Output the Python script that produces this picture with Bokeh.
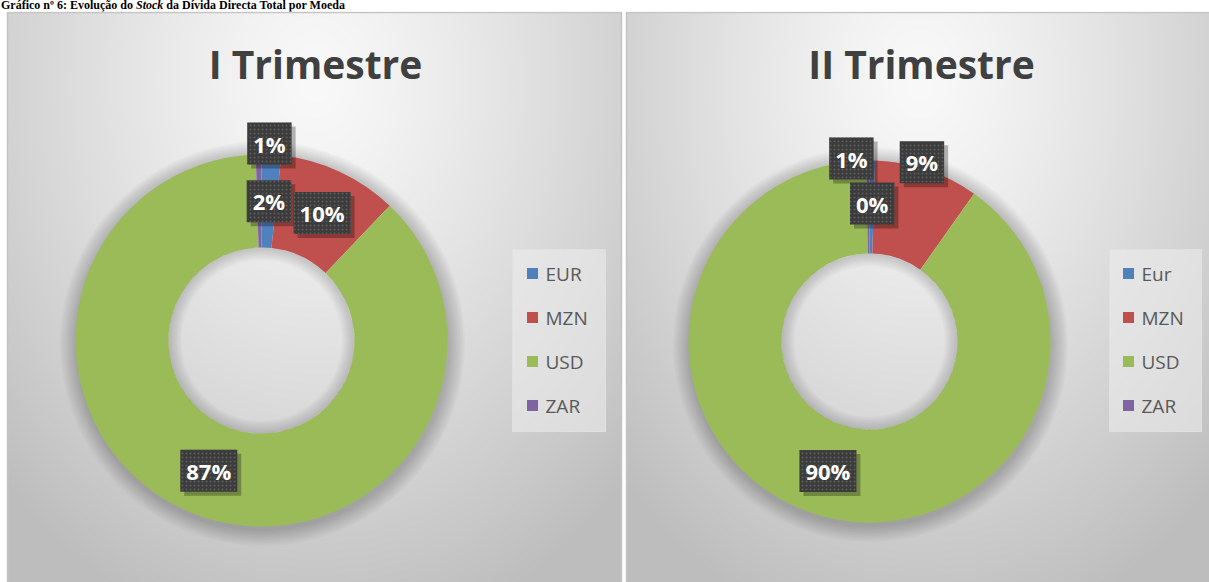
import numpy as np
from bokeh.plotting import figure
from bokeh.models import Range1d, ColumnDataSource, Div
from bokeh.layouts import column
from bokeh.core.properties import value
from bokeh.embed import file_html
from bokeh.resources import INLINE

# ---------------- data ----------------
chart_title = "Gráfico nº 6: Evolução do <i>Stock</i> da Dívida Directa Total por Moeda"
panel_titles = ["I Trimestre", "II Trimestre"]
currencies_q1 = ["EUR", "MZN", "USD", "ZAR"]
shares_q1 = [1.7, 10.4, 87.4, 0.5]
currencies_q2 = ["Eur", "MZN", "USD", "ZAR"]
shares_q2 = [0.5, 9.3, 89.9, 0.3]
colors = ["#4F81BD", "#C0504D", "#9BBB59", "#8064A2"]

# ---------------- layout / style (page pixel coordinates) ----------------
PAGE_W, PAGE_H = 1209, 582
TOP = 11  # height of the caption strip


def Y(py):
    return PAGE_H - py


panels = [
    dict(x0=7, x1=621, y0=12, y1=584, cx=261, cy=340, R=186, r=93, tx=315, ty=63,
         leg=(512, 249, 605, 431), sqx=532, txx=545, rowy=273, rowdy=44,
         lab=[(139.5, 0, 0), (139.5, 2, -1), (139.5, -3, 0), (197, 11, 0)],
         cats=currencies_q1, vals=shares_q1, title=panel_titles[0]),
    dict(x0=626, x1=1212, y0=12, y1=584, cx=869, cy=341, R=181, r=88, tx=921, ty=63,
         leg=(1109, 249, 1201, 431), sqx=1128, txx=1141, rowy=273, rowdy=44,
         lab=[(183, -21, 0), (187, -7, -2), (134.5, -2, 1), (138, 4, 0)],
         cats=currencies_q2, vals=shares_q2, title=panel_titles[1]),
]

p = figure(width=PAGE_W, height=PAGE_H - TOP, x_range=Range1d(0, PAGE_W),
           y_range=Range1d(0, PAGE_H - TOP),
           toolbar_location=None, output_backend="svg", min_border=0)
p.axis.visible = False
p.grid.visible = False
p.outline_line_color = None
p.background_fill_color = "white"
p.border_fill_color = "white"


def gradient(w, h):
    xs = np.arange(w)
    ys = np.arange(h)
    X, Yg = np.meshgrid(xs, ys)
    d = np.sqrt(((X - w * 0.5) / (w * 0.72)) ** 2 + ((Yg - h * 0.12) / (h * 1.0)) ** 2)
    v = 249 - 60 * np.clip(d, 0, 1) ** 1.25
    v = np.flipud(v).astype(np.uint8)
    img = np.empty((h, w), dtype=np.uint32)
    view = img.view(dtype=np.uint8).reshape((h, w, 4))
    view[:, :, 0] = v
    view[:, :, 1] = v
    view[:, :, 2] = v
    view[:, :, 3] = 255
    return img


for pn in panels:
    w = pn["x1"] - pn["x0"]
    h = pn["y1"] - pn["y0"]
    p.image_rgba(image=[gradient(w, h)], x=pn["x0"], y=Y(pn["y1"]), dw=w, dh=h)
    p.quad(left=pn["x0"], right=pn["x1"], top=Y(pn["y0"]), bottom=Y(pn["y1"]),
           fill_color=None, line_color="#c4c4c4", line_width=1.5)

    # panel title
    p.text(x=[pn["tx"]], y=[Y(pn["ty"])], text=[pn["title"]], text_font=value("Open Sans"),
           text_font_size="39px", text_font_style="bold", text_color="#404040",
           text_align="center", text_baseline="middle")

    cx, cy, R, r = pn["cx"], Y(pn["cy"]), pn["R"], pn["r"]
    # soft outer shadow
    for k in range(1, 12):
        p.annulus(x=[cx + 1], y=[cy - 3], inner_radius=R - 4, outer_radius=R + k * 1.5,
                  fill_color="black", fill_alpha=0.018, line_color=None)

    vals = np.array(pn["vals"], dtype=float)
    frac = vals / vals.sum()
    cum = np.concatenate([[0], np.cumsum(frac)])
    start = np.pi / 2 - 2 * np.pi * cum[:-1]
    end = np.pi / 2 - 2 * np.pi * cum[1:]
    src = ColumnDataSource(dict(start=start, end=end, color=colors, cat=pn["cats"]))
    p.annular_wedge(x=cx, y=cy, inner_radius=r, outer_radius=R, start_angle="start",
                    end_angle="end", direction="clock", fill_color="color", line_color=None,
                    source=src)
    # inner shadow of the hole
    for k in range(1, 9):
        p.annulus(x=[cx], y=[cy], inner_radius=r - k * 1.6, outer_radius=r,
                  fill_color="black", fill_alpha=0.018, line_color=None)

    # data labels
    mids = (cum[:-1] + cum[1:]) / 2 * 2 * np.pi
    lx, ly, lt = [], [], []
    for i, (rad, dx, dy) in enumerate(pn["lab"]):
        px = pn["cx"] + rad * np.sin(mids[i]) + dx
        py = pn["cy"] - rad * np.cos(mids[i]) + dy
        lx.append(px)
        ly.append(Y(py))
        lt.append(f"{int(frac[i] * 100 + 0.5):d}%")
    lsrc = ColumnDataSource(dict(x=lx, y=ly, t=lt))
    p.text(x="x", y="y", text="t", source=lsrc, x_offset=4, y_offset=4,
           text_font=value("Open Sans"), text_font_size="22px", text_font_style="bold",
           text_alpha=0, text_align="center", text_baseline="middle",
           background_fill_color="black", background_fill_alpha=0.28, padding=6)
    p.text(x="x", y="y", text="t", source=lsrc,
           text_font=value("Open Sans"), text_font_size="22px", text_font_style="bold",
           text_color="white", text_align="center", text_baseline="middle",
           background_fill_color="#3b3b3b", background_hatch_pattern="dot",
           background_hatch_color="#5c5c5c", background_hatch_scale=4, padding=6)

    # legend
    l0, t0, l1, b0 = pn["leg"]
    p.quad(left=l0, right=l1, top=Y(t0), bottom=Y(b0), fill_color="#eeeeee", fill_alpha=0.55,
           line_color="#e0e0e0")
    ry = [Y(pn["rowy"] + i * pn["rowdy"]) for i in range(len(pn["cats"]))]
    p.scatter(x=[pn["sqx"]] * len(ry), y=ry, marker="square", size=11, fill_color=colors,
              line_color=None)
    p.text(x=[pn["txx"]] * len(ry), y=ry, text=pn["cats"], text_font=value("Open Sans"),
           text_font_size="19px", text_color="#595959", text_align="left",
           text_baseline="middle")

caption = Div(text=f"<b>{chart_title}</b>", width=PAGE_W, height=TOP, margin=(0, 0, 0, 0),
              styles={"font-family": "Liberation Serif", "font-size": "12px",
                      "line-height": "11px", "color": "black", "white-space": "nowrap",
                      "padding-left": "1px"})

layout = column(caption, p, spacing=0)
open("out.html", "w").write(file_html(layout, INLINE))
